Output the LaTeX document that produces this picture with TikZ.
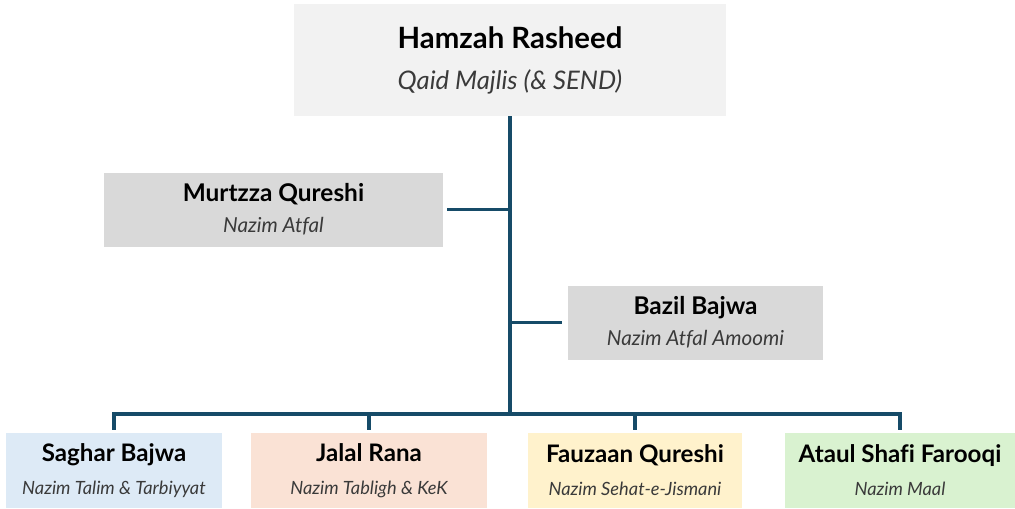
\documentclass[tikz,border=0pt]{standalone}
\usepackage{fontspec}
\setmainfont{Lato}[Ligatures=NoCommon]
\usepackage{tikz}
\usepackage{xcolor}

\definecolor{linkblue}{HTML}{164B68}
\definecolor{topgray}{HTML}{F2F2F2}
\definecolor{midgray}{HTML}{D9D9D9}
\definecolor{talimblue}{HTML}{DDEAF6}
\definecolor{tablighred}{HTML}{FAE2D5}
\definecolor{sehatyellow}{HTML}{FFF2CC}
\definecolor{maalgreen}{HTML}{D9F2D0}
\definecolor{roletext}{HTML}{3A3A3A}

\begin{document}
\begin{tikzpicture}[x=0.75pt,y=-0.75pt,
  card/.style={draw=none, inner sep=0pt, align=center, text=black},
  bigcard/.style={card, minimum width=324pt, minimum height=84pt, font={\fontsize{22pt}{30.75pt}\selectfont}},
  midcard/.style={card, minimum height=55.5pt, font={\fontsize{18.3pt}{23.25pt}\selectfont}},
  lowcard/.style={card, minimum height=56.25pt, font={\fontsize{18.1pt}{24.75pt}\selectfont}},
  link/.style={draw=linkblue, line width=2.6pt}]
\useasboundingbox (0,0) rectangle (1015,508);
\node[bigcard, fill=topgray] (qaid) at (510,60)
  {\bfseries Hamzah Rasheed\\{\fontsize{19.2pt}{19.2pt}\selectfont\itshape\color{roletext}Qaid Majlis (\& SEND)}};
\node[midcard, fill=midgray, minimum width=254.25pt] (atfal) at (273.5,209.5)
  {\bfseries Murtzza Qureshi\\{\fontsize{15.5pt}{15.5pt}\selectfont\itshape\color{roletext}Nazim Atfal}};
\node[midcard, fill=midgray, minimum width=191.25pt] (amoomi) at (695.5,322.5)
  {\bfseries Bazil Bajwa\\{\fontsize{15.5pt}{15.5pt}\selectfont\itshape\color{roletext}Nazim Atfal Amoomi}};
\node[lowcard, fill=talimblue, minimum width=162pt] (talim) at (114,470.5)
  {\bfseries Saghar Bajwa\\{\fontsize{13.7pt}{13.7pt}\selectfont\itshape\color{roletext}Nazim Talim \& Tarbiyyat}};
\node[lowcard, fill=tablighred, minimum width=177pt] (tabligh) at (369,470.5)
  {\bfseries Jalal Rana\\{\fontsize{13.7pt}{13.7pt}\selectfont\itshape\color{roletext}Nazim Tabligh \& KeK}};
\node[lowcard, fill=sehatyellow, minimum width=160.5pt] (sehat) at (635,470.5)
  {\bfseries Fauzaan Qureshi\\{\fontsize{13.7pt}{13.7pt}\selectfont\itshape\color{roletext}Nazim Sehat-e-Jismani}};
\node[lowcard, fill=maalgreen, minimum width=172.5pt] (maal) at (900,470.5)
  {\bfseries Ataul Shafi Farooqi\\{\fontsize{13.7pt}{13.7pt}\selectfont\itshape\color{roletext}Nazim Maal}};
% trunk and bus
\coordinate (hub) at (510,414);
\draw[link] (qaid.south) -- (hub);
\draw[link] ([xshift=3pt]atfal.east) -- (atfal.east -| hub);
\draw[link] (amoomi.west -| hub) -- ([xshift=-4pt]amoomi.west);
\draw[link, line cap=rect] (talim.north |- hub) -- (maal.north |- hub);
\draw[link, shorten >=2pt] (talim.north |- hub) -- (talim.north);
\draw[link, shorten >=2pt] (tabligh.north |- hub) -- (tabligh.north);
\draw[link, shorten >=2pt] (sehat.north |- hub) -- (sehat.north);
\draw[link, shorten >=2pt] (maal.north |- hub) -- (maal.north);
\end{tikzpicture}
\end{document}
